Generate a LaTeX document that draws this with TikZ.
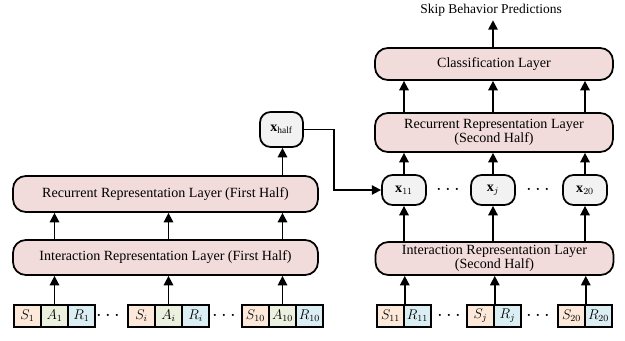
\documentclass[tikz,border=0pt]{standalone}
\usepackage{fontspec}
\setmainfont{Liberation Serif}
\usepackage{tikz}
\usetikzlibrary{arrows.meta}
\usepackage{xcolor}

\definecolor{layerpink}{HTML}{F2DCDB}
\definecolor{vecgray}{HTML}{F2F2F2}
\definecolor{speach}{HTML}{FDE9D9}
\definecolor{agreen}{HTML}{EBF1DE}
\definecolor{rblue}{HTML}{DAEEF3}

\tikzset{
  layer/.style={draw=black, line width=1.5pt, fill=layerpink, rounded corners=11pt, align=center, inner sep=1pt, font=\fontsize{12}{12.5}\selectfont},
  vec/.style={draw=black, line width=1.5pt, fill=vecgray, rounded corners=9pt, minimum width=1.32cm, minimum height=0.9cm, font=\fontsize{12}{13}\selectfont},
  cell/.style={draw=black, line width=1.3pt, minimum width=0.81cm, minimum height=0.66cm, inner sep=0pt, font=\fontsize{12}{13}\selectfont},
  arr/.style={line width=1.4pt, -{Triangle[length=8pt,width=8pt]}},
  dots/.style={font=\fontsize{18}{18}\selectfont}
}

\begin{document}
\begin{tikzpicture}[x=0.03cm, y=-0.03cm]
  \useasboundingbox (0,0) rectangle (625,341);

  % first half inputs
  \node[cell, fill=speach] (s1) at (27.5,316) {$S_1$};
  \node[cell, fill=agreen] (a1) at (54.5,316) {$A_1$};
  \node[cell, fill=rblue] (r1) at (81.5,316) {$R_1$};
  \node[dots] (d1) at (108,316) {$\cdots$};
  \node[cell, fill=speach] (si) at (141.5,316) {$S_i$};
  \node[cell, fill=agreen] (ai) at (168.5,316) {$A_i$};
  \node[cell, fill=rblue] (ri) at (195.5,316) {$R_i$};
  \node[dots] (d2) at (224,316) {$\cdots$};
  \node[cell, fill=speach] (s10) at (255.5,316) {$S_{10}$};
  \node[cell, fill=agreen] (a10) at (282.5,316) {$A_{10}$};
  \node[cell, fill=rblue] (r10) at (309.5,316) {$R_{10}$};

  % first half layers
  \node[layer, minimum width=9.15cm, minimum height=1.05cm] (int1) at (165.5,257.5) {Interaction Representation Layer (First Half)};
  \node[layer, minimum width=9.15cm, minimum height=1.08cm] (rec1) at (165.5,194) {Recurrent Representation Layer (First Half)};
  \node[vec, minimum width=1.29cm, minimum height=1.05cm] (xhalf) at (281.5,129.5) {$\mathbf{x}_{\mathrm{half}}$};

  \foreach \a in {a1,ai,a10}{
    \draw[arr] (\a.north) -- (\a.north |- int1.south);
    \draw[arr] (\a.north |- int1.north) -- (\a.north |- rec1.south);
  }
  \draw[arr] (a10.north |- rec1.north) -- (a10.north |- xhalf.south);

  % second half inputs
  \node[cell, fill=speach] (s11) at (390.5,316) {$S_{11}$};
  \node[cell, fill=rblue] (r11) at (417.5,316) {$R_{11}$};
  \node[dots] (d3) at (449,316) {$\cdots$};
  \node[cell, fill=speach] (sj) at (480.5,316) {$S_j$};
  \node[cell, fill=rblue] (rj) at (507.5,316) {$R_j$};
  \node[dots] (d4) at (538,316) {$\cdots$};
  \node[cell, fill=speach] (s20) at (571.5,316) {$S_{20}$};
  \node[cell, fill=rblue] (r20) at (598.5,316) {$R_{20}$};

  % second half layers
  \node[layer, minimum width=7.14cm, minimum height=0.99cm] (int2) at (494.5,258.5) {Interaction Representation Layer\\(Second Half)};
  \node[vec] (x11) at (404,190) {$\mathbf{x}_{11}$};
  \node[dots] (d5) at (448,190) {$\cdots$};
  \node[vec] (xj) at (493,190) {$\mathbf{x}_j$};
  \node[dots] (d6) at (538,190) {$\cdots$};
  \node[vec] (x20) at (585,190) {$\mathbf{x}_{20}$};
  \node[layer, minimum width=7.14cm, minimum height=1.17cm] (rec2) at (494,132.5) {Recurrent Representation Layer\\(Second Half)};
  \node[layer, minimum width=7.14cm, minimum height=0.96cm] (cls) at (494,64) {Classification Layer};
  \node[font=\fontsize{11.5}{12}\selectfont] (pred) at (491,10) {Skip Behavior Predictions};

  \foreach \s/\x in {s11/x11,sj/xj,s20/x20}{
    \draw[arr] (\s.north east) -- (\s.north east |- int2.south);
    \draw[arr] (\x.south |- int2.north) -- (\x.south);
    \draw[arr] (\x.north) -- (\x.north |- rec2.south);
    \draw[arr] (\x.north |- rec2.north) -- (\x.north |- cls.south);
  }
  \draw[arr] (cls.north -| xj.north) -- (pred.south -| xj.north);

  % half vector into second half
  \draw[arr] (xhalf.east) -- ++(30,0) |- (x11.west);
\end{tikzpicture}
\end{document}
